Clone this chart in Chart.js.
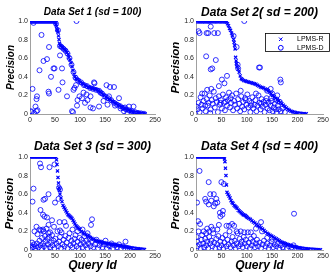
<!DOCTYPE html>
<html lang="en">
<head>
  <meta charset="UTF-8" />
  <title>LPMS precision per query</title>
  <script src="https://cdn.jsdelivr.net/npm/chart.js"></script>
  <style>
    body { margin: 0; background: #ffffff; }
    .panel { position: absolute; width: 166px; height: 137px; }
    canvas { display: block; }
  </style>
</head>
<body>
  <div class="panel" style="left:0;top:0"><canvas id="set1" width="166" height="137"></canvas></div>
  <div class="panel" style="left:166px;top:0"><canvas id="set2" width="166" height="137"></canvas></div>
  <div class="panel" style="left:0;top:137px"><canvas id="set3" width="166" height="137"></canvas></div>
  <div class="panel" style="left:166px;top:137px"><canvas id="set4" width="166" height="137"></canvas></div>

<script>
  // ---------- data: [query id, precision] ----------
  const xTicks = [0, 50, 100, 150, 200, 250];
  const seriesNames = ['LPMS-R', 'LPMS-D'];

  // Data Set 1 (sd = 100)
  const set1R = [[1,1],[4,1],[7,1],[10,1],[13,1],[16,1],[19,1],[22,1],[25,1],[28,1],[31,1],[34,1],[37,1],[40,1],[43,1],[46,1],[49,1],
    [51,0.98],[52,0.96],[53,0.94],[54,0.91],[55,0.9],[56,0.88],[57,0.84],[58,0.8],[59,0.76],[60,0.74],[62,0.73],[64,0.72],[66,0.71],[68,0.7],[70,0.69],[72,0.68],[74,0.66],[76,0.64],[78,0.61],[80,0.58],[82,0.55],[84,0.51],[86,0.47],[88,0.43],[90,0.4],[92,0.38],[95,0.37],[98,0.36],[101,0.34],[104,0.33],[107,0.32],[110,0.31],[113,0.3],[116,0.29],[119,0.285],[122,0.28],[125,0.275],[128,0.27],[131,0.265],[134,0.26],[137,0.25],[140,0.24],[143,0.225],[146,0.21],[149,0.2],[152,0.185],[155,0.17],[158,0.16],[161,0.15],[164,0.14],[167,0.13],[170,0.12],[173,0.11],[176,0.1],[179,0.09],[182,0.08],[185,0.07],[188,0.06],[191,0.055],[194,0.05],[197,0.04],[200,0.035],[203,0.03],[206,0.025],[209,0.02],[212,0.017],[215,0.014],[218,0.011],[221,0.008],[224,0.006],[227,0.004],[230,0.002]];
  const set1D = [[2,1],[6,1],[10,1],[14,1],[18,1],[22,1],[26,1],[30,1],[34,1],[38,1],[42,1],[46,1],[50,1],
    [52,0.97],[56,0.9],[60,0.73],[63,0.72],[67,0.7],[71,0.68],[75,0.65],[79,0.6],[83,0.53],[87,0.45],[91,0.39],[96,0.36],[102,0.34],[108,0.31],[114,0.3],[120,0.28],[126,0.27],[132,0.26],[138,0.25],[144,0.22],[150,0.19],[156,0.17],[162,0.15],[168,0.12],[174,0.1],[180,0.085],[186,0.065],[192,0.05],[198,0.04],[204,0.03],[210,0.02],[216,0.012],[222,0.007],[228,0.003],
    [23,0.85],[93,1],[7,0.98],[38,0.72],[27,0.57],[34,0.59],[19,0.47],[47,0.49],[49,0.49],[42,0.4],[64,0.49],[65,0.34],[57,0.26],[5,0.27],[37,0.24],[38,0.22],[14,0.19],[13,0.16],[74,0.19],[11,0.08],[2,0.03],[3,0.02],[13,0.03],[86,0.02],[84,0.03],[95,0.15],[94,0.09],[99,0.19],[104,0.17],[107,0.23],[121,0.07],[126,0.06],[128,0.34],[129,0.33],[138,0.08],[153,0.31],[160,0.29],[168,0.29],[158,0.19],[155,0.1],[178,0.17],[198,0.08],[207,0.08],[188,0.03],[181,0.06],[121,0.19],[113,0.21],[141,0.23],[89,0.28],[8,0.01],[15,0.04],[60,0.63],[87,0.26],[92,0.31],[110,0.12],[115,0.15],[147,0.14],[170,0.09],[190,0.07],[195,0.01],[203,0]];

  // Data Set 2 (sd = 200)
  const set2R = [[1,1],[4,1],[7,1],[10,1],[13,1],[16,1],[19,1],[22,1],[25,1],[28,1],[31,1],[34,1],[37,1],[40,1],[43,1],[46,1],[49,1],[52,1],[55,1],[58,1],
    [60,0.99],[62,0.97],[64,0.95],[66,0.92],[68,0.9],[70,0.87],[72,0.84],[74,0.8],[75,0.77],[76,0.74],[77,0.7],[78,0.61],[79,0.57],[80,0.54],[81,0.51],[83,0.48],[85,0.45],[87,0.41],[89,0.38],[91,0.37],[94,0.36],[97,0.355],[100,0.35],[103,0.345],[106,0.34],[109,0.335],[112,0.33],[115,0.325],[118,0.32],[121,0.31],[124,0.3],[127,0.29],[130,0.285],[133,0.28],[136,0.27],[139,0.26],[142,0.25],[145,0.235],[148,0.22],[151,0.2],[154,0.185],[157,0.17],[160,0.155],[163,0.14],[166,0.125],[169,0.11],[172,0.095],[175,0.08],[178,0.065],[181,0.05],[184,0.04],[187,0.03],[190,0.025],[193,0.02],[196,0.016],[199,0.012],[202,0.009],[205,0.007],[208,0.005],[211,0.004],[214,0.003],[217,0.002]];
  const set2D = [[3,1],[8,1],[13,1],[17,1],[22,1],[26,1],[30,1],[36,1],[41,1],[47,1],[52,1],[57,1],[95,1],
    [5,0.89],[7,0.87],[21,0.87],[24,0.87],[29,0.94],[36,0.87],[43,0.87],[20,0.62],[39,0.58],[29,0.48],[32,0.49],[51,0.37],[61,0.41],[56,0.33],[83,0.49],[82,0.53],[124,0.5],[126,0.5],[166,0.37],[167,0.34],[147,0.27],[80,0.72],[74,0.84],
    [1,0.08],[3,0.05],[5,0.12],[7,0.02],[9,0.18],[11,0.1],[13,0.06],[15,0.14],[17,0.22],[19,0.03],[21,0.16],[23,0.09],[25,0.12],[27,0.2],[29,0.05],[31,0.15],[33,0.11],[35,0.24],[37,0.07],[39,0.17],[41,0.13],[43,0.02],[45,0.19],[47,0.1],[49,0.15],[51,0.06],[53,0.21],[55,0.12],[57,0.04],[59,0.18],[61,0.09],[63,0.15],[65,0.23],[67,0.07],[69,0.12],[71,0.2],[73,0.04],[75,0.14],[77,0.1],[79,0.22],[81,0.06],[83,0.16],[85,0.11],[87,0.03],[89,0.19],[91,0.08],[93,0.13],[95,0.05],[97,0.17],[99,0.1],[101,0.21],[103,0.07],[105,0.14],[107,0.02],[109,0.12],[111,0.18],[113,0.06],[115,0.1],[117,0.15],[119,0.03],[121,0.09],[123,0.2],[125,0.12],[127,0.05],[129,0.16],[131,0.08],[133,0.13],[135,0.02],[137,0.1],[139,0.17],[141,0.06],[143,0.12],[145,0.04],[147,0.09],[149,0.14],[151,0.03],[153,0.07],[155,0.11],[157,0.05],[159,0.02],[161,0.09],[163,0.05],[165,0.13],[167,0.03],[170,0.06],[175,0.02],[160,0.2],[150,0.22],[140,0.25],[30,0.27],[45,0.3],[12,0.22],[22,0.26],[48,0.12],[18,0.09],[28,0.01],[58,0.13],[68,0.17],[88,0.25],[98,0.15],[108,0.09],[118,0.22],[128,0.11],[138,0.14],[148,0.17],[158,0.15]];

  // Data Set 3 (sd = 300)
  const set3R = [[1,1],[4,1],[7,1],[10,1],[13,1],[16,1],[19,1],[22,1],[25,1],[28,1],[31,1],[34,1],[37,1],[40,1],[43,1],[46,1],[49,1],[52,1],
    [53,0.97],[54,0.92],[55,0.85],[56,0.78],[57,0.72],[58,0.67],[59,0.64],[60,0.6],[62,0.56],[64,0.52],[66,0.48],[68,0.46],[70,0.44],[72,0.42],[74,0.4],[76,0.38],[78,0.37],[80,0.36],[82,0.35],[84,0.34],[86,0.32],[88,0.3],[90,0.28],[92,0.26],[94,0.25],[96,0.24],[98,0.23],[100,0.22],[103,0.2],[106,0.185],[109,0.175],[112,0.165],[115,0.155],[118,0.145],[121,0.135],[124,0.125],[127,0.115],[130,0.105],[133,0.1],[136,0.095],[139,0.09],[142,0.085],[145,0.08],[148,0.077],[151,0.074],[154,0.071],[157,0.068],[160,0.065],[163,0.062],[166,0.06],[169,0.057],[172,0.054],[175,0.051],[178,0.048],[181,0.045],[184,0.042],[187,0.039],[190,0.036],[193,0.033],[196,0.03],[199,0.027],[202,0.024],[205,0.021],[208,0.019],[211,0.017],[214,0.015],[217,0.013],[220,0.011],[223,0.009],[226,0.007],[229,0.005]];
  const set3D = [[20,0.93],[22,0.89],[39,0.89],[49,0.92],[7,0.66],[5,0.52],[30,0.55],[27,0.54],[37,0.6],[50,0.51],[57,0.55],[21,0.43],[26,0.38],[29,0.36],[34,0.35],[44,0.32],[59,0.3],[69,0.3],[122,0.27],[124,0.33],[37,0.27],[19,0.22],[22,0.21],[26,0.22],[37,0.18],[40,0.19],[58,0.67],[60,0.65],
    [1,0.05],[3,0.02],[4,0.08],[6,0.03],[8,0.06],[10,0.01],[12,0.04],[14,0.07],[15,0.17],[17,0.03],[19,0.1],[21,0.05],[23,0.02],[24,0.13],[26,0.07],[28,0.04],[30,0.15],[31,0.09],[33,0.02],[35,0.12],[36,0.06],[38,0.14],[40,0.03],[42,0.08],[44,0.16],[45,0.05],[47,0.1],[49,0.02],[51,0.12],[53,0.07],[55,0.2],[56,0.04],[58,0.09],[60,0.14],[62,0.02],[63,0.19],[65,0.06],[67,0.11],[69,0.04],[71,0.15],[73,0.08],[75,0.02],[77,0.13],[79,0.18],[81,0.05],[83,0.1],[85,0.03],[87,0.07],[89,0.12],[91,0.16],[93,0.04],[95,0.09],[97,0.02],[99,0.13],[101,0.06],[103,0.11],[105,0.03],[107,0.08],[109,0.15],[111,0.05],[113,0.1],[115,0.02],[117,0.07],[119,0.12],[121,0.04],[124,0.09],[127,0.03],[130,0.06],[133,0.11],[136,0.02],[139,0.05],[142,0.08],[145,0.03],[148,0.06],[151,0.1],[154,0.02],[157,0.05],[160,0.04],[163,0.07],[166,0.02],[170,0.05],[174,0.03],[178,0.06],[182,0.02],[186,0.04],[191,0.09],[195,0.02],[200,0.01],
    [9,0.2],[27,0.2],[33,0.23],[13,0.25],[48,0.25],[60,0.21],[85,0.22],[72,0.26],[95,0.2],[105,0.22],[115,0.18]];

  // Data Set 4 (sd = 400)
  const set4R = [[1,1],[4,1],[7,1],[10,1],[13,1],[16,1],[19,1],[22,1],[25,1],[28,1],[31,1],[34,1],[37,1],[40,1],[43,1],[46,1],[49,1],[52,1],[55,1],
    [56,0.98],[57,0.95],[58,0.88],[59,0.8],[60,0.7],[61,0.62],[63,0.6],[65,0.58],[67,0.56],[69,0.53],[71,0.51],[73,0.5],[75,0.48],[77,0.47],[79,0.46],[81,0.45],[83,0.43],[85,0.42],[87,0.41],[89,0.4],[91,0.39],[93,0.38],[95,0.375],[97,0.37],[99,0.36],[101,0.35],[104,0.34],[107,0.33],[110,0.315],[113,0.3],[116,0.29],[119,0.275],[122,0.26],[125,0.25],[128,0.24],[131,0.225],[134,0.21],[137,0.195],[140,0.18],[143,0.17],[146,0.16],[149,0.15],[152,0.14],[155,0.13],[158,0.12],[161,0.11],[164,0.1],[167,0.09],[170,0.082],[173,0.075],[176,0.068],[179,0.062],[182,0.056],[185,0.05],[188,0.045],[191,0.04],[194,0.036],[197,0.032],[200,0.028],[203,0.025],[206,0.022],[209,0.019],[212,0.017],[215,0.015],[218,0.013],[221,0.011],[224,0.009],[227,0.008],[230,0.007],[233,0.006],[236,0.005],[239,0.004],[242,0.003],[245,0.002]];
  const set4D = [[7,0.85],[2,0.51],[4,0.31],[25,0.73],[28,0.6],[30,0.53],[20,0.52],[35,0.6],[38,0.5],[42,0.51],[50,0.73],[55,0.71],[35,0.47],[53,0.42],[45,0.27],[65,0.26],[71,0.28],[193,0.39],[128,0.3],[40,0.55],[25,0.49],[15,0.2],[20,0.18],[33,0.22],[47,0.4],[52,0.38],[18,0.55],
    [1,0.14],[2,0.09],[3,0.04],[5,0.2],[7,0.06],[9,0.02],[11,0.11],[12,0.16],[14,0.07],[16,0.03],[18,0.12],[20,0.05],[22,0.09],[24,0.02],[26,0.14],[28,0.07],[30,0.1],[32,0.04],[34,0.18],[36,0.08],[38,0.02],[40,0.12],[42,0.06],[44,0.15],[46,0.03],[48,0.09],[50,0.05],[52,0.13],[54,0.02],[56,0.08],[58,0.16],[60,0.04],[62,0.11],[64,0.06],[66,0.2],[68,0.03],[70,0.09],[72,0.14],[74,0.05],[76,0.1],[78,0.02],[80,0.07],[82,0.18],[84,0.04],[86,0.12],[88,0.06],[90,0.09],[92,0.03],[94,0.14],[96,0.07],[98,0.11],[100,0.04],[102,0.19],[104,0.08],[106,0.02],[108,0.12],[110,0.05],[112,0.09],[114,0.15],[116,0.03],[118,0.07],[120,0.11],[122,0.04],[125,0.08],[128,0.02],[131,0.06],[134,0.1],[137,0.04],[140,0.07],[143,0.02],[146,0.05],[149,0.09],[152,0.03],[155,0.06],[158,0.04],[161,0.07],[164,0.02],[167,0.05],[171,0.03],[175,0.06],[179,0.02],[183,0.04],[188,0.03],[192,0.05],[197,0.02],[202,0.01],
    [8,0.28],[22,0.23],[26,0.2],[30,0.25],[42,0.22],[48,0.36],[60,0.26],[75,0.26],[80,0.2],[88,0.2],[95,0.19],[108,0.19],[118,0.23],[130,0.2],[140,0.13],[150,0.12]];

  // ---------- drawing ----------
  const FONT = '"Liberation Sans", Arial, sans-serif';
  const BLUE = 'rgb(0,0,255)';
  const toPts = arr => arr.map(p => ({ x: p[0], y: p[1] }));

  // panel title (centred over the axes, like matlab) + optional boxed legend
  const panelText = {
    id: 'panelText',
    afterDraw(chart, args, opts) {
      const { ctx, chartArea } = chart;
      ctx.save();
      ctx.fillStyle = '#000';
      ctx.font = `italic bold ${opts.size}px ${FONT}`;
      ctx.textAlign = 'center';
      ctx.textBaseline = 'middle';
      ctx.fillText(opts.text, (chartArea.left + chartArea.right) / 2, opts.y);

      if (opts.legend) {
        const bx = 99, by = 33, bw = 65, bh = 19;
        ctx.fillStyle = '#fff';
        ctx.fillRect(bx, by, bw, bh);
        ctx.strokeStyle = '#000';
        ctx.lineWidth = 0.8;
        ctx.strokeRect(bx + 0.5, by + 0.5, bw - 1, bh - 1);
        ctx.strokeStyle = BLUE;
        ctx.lineWidth = 1;
        // x marker
        ctx.beginPath();
        ctx.moveTo(113, 37.5); ctx.lineTo(116.5, 41);
        ctx.moveTo(116.5, 37.5); ctx.lineTo(113, 41);
        ctx.stroke();
        // o marker
        ctx.beginPath();
        ctx.arc(114.8, 47.8, 2.4, 0, Math.PI * 2);
        ctx.stroke();
        ctx.fillStyle = '#000';
        ctx.font = `7px ${FONT}`;
        ctx.textAlign = 'left';
        ctx.fillText(seriesNames[0], 131, 39.5);
        ctx.fillText(seriesNames[1], 131, 48);
      }
      ctx.restore();
    }
  };

  function makePanel(id, rData, dData, cfg) {
    return new Chart(document.getElementById(id), {
      type: 'scatter',
      data: {
        datasets: [
          { label: seriesNames[0], data: toPts(rData), pointStyle: 'crossRot', pointRadius: 2.2,
            borderColor: BLUE, backgroundColor: BLUE, borderWidth: 1.2 },
          { label: seriesNames[1], data: toPts(dData), pointStyle: 'circle', pointRadius: 2.5,
            borderColor: BLUE, backgroundColor: 'rgba(0,0,0,0)', borderWidth: 0.8 }
        ]
      },
      options: {
        responsive: false,
        animation: false,
        devicePixelRatio: 1,
        layout: { padding: { top: cfg.top, right: cfg.right, left: 0, bottom: 0 } },
        scales: {
          x: {
            min: 0, max: 250,
            afterBuildTicks: s => { s.ticks = xTicks.map(v => ({ value: v })); },
            afterFit: s => { s.height = cfg.xHeight; },
            grid: { display: false, drawTicks: false },
            border: { color: '#a0a0a0', width: 1 },
            ticks: { font: { size: 7, family: FONT }, color: '#222', padding: 2, maxRotation: 0 },
            title: { display: cfg.bottomRow, text: 'Query Id', color: '#000',
              font: { size: 12, weight: 'bold', style: 'italic', family: FONT },
              padding: { top: 0, bottom: 1 } }
          },
          y: {
            min: 0, max: 1,
            ticks: { stepSize: 0.2, font: { size: 7, family: FONT }, color: '#222', padding: 2 },
            afterFit: s => { s.width = 30; },
            grid: { display: false, drawTicks: false },
            border: { color: '#a0a0a0', width: 1 },
            title: { display: true, text: 'Precision', color: '#000',
              font: { size: cfg.labelSize, weight: 'bold', style: 'italic', family: FONT },
              padding: { top: cfg.labelPad, bottom: 0 } }
          }
        },
        plugins: {
          legend: { display: false },
          tooltip: { enabled: false },
          panelText: { text: cfg.title, size: cfg.titleSize, y: cfg.titleY, legend: cfg.legend }
        }
      },
      plugins: [panelText]
    });
  }

  makePanel('set1', set1R, set1D, { title: 'Data Set 1 (sd = 100)', titleSize: 10, titleY: 12.5,
    labelSize: 10, labelPad: 5, top: 21, right: 11, xHeight: 23, bottomRow: false, legend: false });
  makePanel('set2', set2R, set2D, { title: 'Data Set 2( sd = 200)', titleSize: 12, titleY: 12.5,
    labelSize: 11.5, labelPad: 3, top: 21, right: 9, xHeight: 23, bottomRow: false, legend: true });
  makePanel('set3', set3R, set3D, { title: 'Data Set 3 (sd = 300)', titleSize: 12, titleY: 10,
    labelSize: 11.5, labelPad: 3, top: 20, right: 11, xHeight: 24, bottomRow: true, legend: false });
  makePanel('set4', set4R, set4D, { title: 'Data Set 4 (sd = 400)', titleSize: 12, titleY: 10,
    labelSize: 11.5, labelPad: 3, top: 20, right: 9, xHeight: 24, bottomRow: true, legend: false });
</script>
</body>
</html>
